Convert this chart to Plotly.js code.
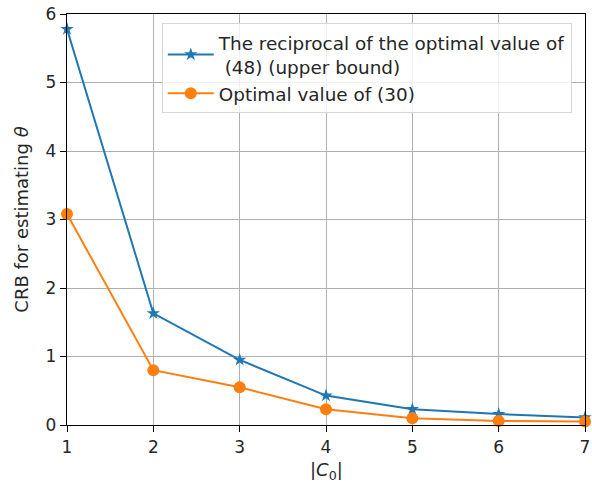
<!DOCTYPE html>
<html>
<head>
<meta charset="utf-8">
<script src="https://cdn.plot.ly/plotly-3.0.1.min.js"></script>
<style>html,body{margin:0;padding:0;background:#fff;}#chart{width:592px;height:486px;}</style>
</head>
<body>
<div id="chart"></div>
<script>
const xValues = [1, 2, 3, 4, 5, 6, 7];
const upperBound = [5.78, 1.63, 0.95, 0.43, 0.23, 0.16, 0.11];
const optimal30 = [3.08, 0.80, 0.55, 0.23, 0.10, 0.06, 0.05];
const seriesNames = ["The reciprocal of the optimal value of<br> (48) (upper bound)", "Optimal value of (30)"];
const xTicks = [1, 2, 3, 4, 5, 6, 7];
const yTicks = [0, 1, 2, 3, 4, 5, 6];
const xTitle = "|<i>C</i><sub>0</sub>|";
const yTitle = "CRB for estimating <i>θ</i>";

const font = {family: "DejaVu Sans", size: 18, color: "#262626"};
const legendFont = {family: "DejaVu Sans", size: 18.4, color: "#262626"};
const tickFont = {family: "DejaVu Sans", size: 17, color: "#262626"};
const traces = [
  {x: xValues, y: upperBound, name: seriesNames[0], mode: "lines+markers",
   line: {color: "#1f77b4", width: 2}, marker: {symbol: "star", size: 10, color: "#1f77b4"}, cliponaxis: false},
  {x: xValues, y: optimal30, name: seriesNames[1], mode: "lines+markers",
   line: {color: "#ff7f0e", width: 2}, marker: {symbol: "circle", size: 12, color: "#ff7f0e"}, cliponaxis: false}
];
const axisCommon = {showline: true, linecolor: "#000", linewidth: 1.2, mirror: true,
  ticks: "outside", ticklen: 6, tickcolor: "#000", showgrid: true, gridcolor: "#b0b0b0", gridwidth: 1,
  zeroline: false, tickfont: tickFont};
const layout = {
  width: 592, height: 486,
  margin: {l: 67, r: 7, t: 14, b: 61},
  paper_bgcolor: "#fff", plot_bgcolor: "#fff",
  font: font,
  xaxis: Object.assign({}, axisCommon, {range: [1, 7], tickvals: xTicks}),
  yaxis: Object.assign({}, axisCommon, {range: [0, 6], tickvals: yTicks,
    title: {text: yTitle, font: font, standoff: 12}}),
  annotations: [{text: xTitle, xref: "paper", yref: "paper", x: 0.5, y: -0.147,
    xanchor: "center", yanchor: "bottom", showarrow: false, font: font}],
  legend: {x: 0.183, y: 0.978, xanchor: "left", yanchor: "top",
    bgcolor: "rgba(255,255,255,0.8)", bordercolor: "#d6d6d6", borderwidth: 1, font: legendFont,
    tracegroupgap: 0, itemwidth: 46},
  showlegend: true
};
Plotly.newPlot("chart", traces, layout, {displayModeBar: false, staticPlot: true});
</script>
</body>
</html>
